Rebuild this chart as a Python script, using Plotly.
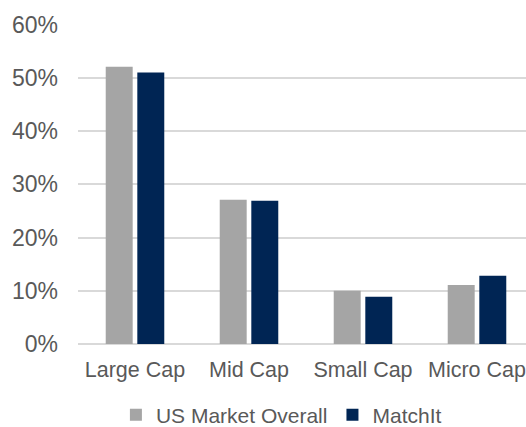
import plotly.graph_objects as go

categories = ["Large Cap", "Mid Cap", "Small Cap", "Micro Cap"]
us_market = [0.521, 0.271, 0.100, 0.111]
matchit = [0.510, 0.269, 0.089, 0.128]
y_ticks = [0, 0.1, 0.2, 0.3, 0.4, 0.5, 0.6]

FONT = "Liberation Sans, Arial, sans-serif"
TXT = "#595959"

fig = go.Figure()
fig.add_trace(go.Bar(name="US Market Overall", x=categories, y=us_market,
                     marker=dict(color="#A5A5A5", line=dict(width=0))))
fig.add_trace(go.Bar(name="MatchIt", x=categories, y=matchit,
                     marker=dict(color="#002554", line=dict(width=0))))

fig.update_layout(
    width=526, height=427,
    margin=dict(l=78, r=0, t=24, b=83),
    paper_bgcolor="white", plot_bgcolor="white",
    barmode="group", bargap=0.446, bargroupgap=0.146,
    font=dict(family=FONT, size=21, color=TXT),
    showlegend=True,
    legend=dict(orientation="h", xref="container", yref="container",
                x=0.535, xanchor="center", y=0.028, yanchor="middle",
                font=dict(family=FONT, size=21, color=TXT),
                itemwidth=30, traceorder="normal"),
)
fig.update_xaxes(range=[-0.5, -0.5 + 448 / 114], showgrid=False, showline=False,
                 ticks="", ticklabelstandoff=10, automargin=False,
                 tickfont=dict(family=FONT, size=21.5, color=TXT))
fig.update_yaxes(range=[0, 0.6012], tickvals=y_ticks, tickformat=".0%",
                 showgrid=True, gridcolor="#D9D9D9", gridwidth=1.5,
                 zeroline=True, zerolinecolor="#D9D9D9", zerolinewidth=1.5,
                 showline=False, ticks="", ticklabelstandoff=19, automargin=False,
                 tickfont=dict(family=FONT, size=23, color=TXT))

fig.write_html("out.html", config={"displayModeBar": False},
               post_script="document.body.style.margin='0';")
